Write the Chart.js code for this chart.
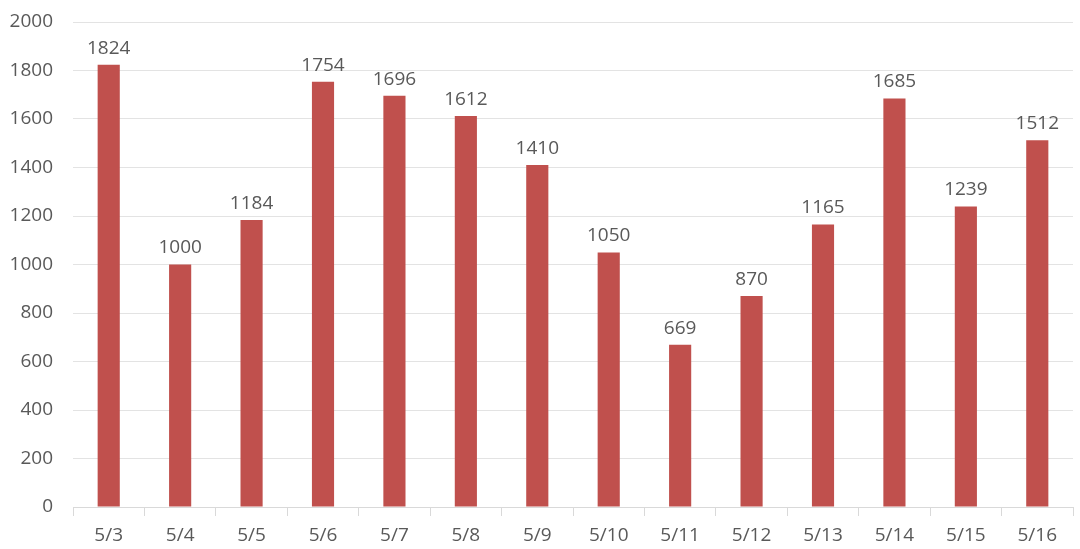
<!DOCTYPE html>
<html>
<head>
<meta charset="utf-8">
<script src="https://cdn.jsdelivr.net/npm/chart.js@4/dist/chart.umd.min.js"></script>
<style>
  html, body { margin: 0; padding: 0; background: #fff; }
  #wrap { width: 1080px; height: 549px; }
</style>
</head>
<body>
<div id="wrap"><canvas id="chart"></canvas></div>
<script>
const dates = ["5/3", "5/4", "5/5", "5/6", "5/7", "5/8", "5/9", "5/10", "5/11", "5/12", "5/13", "5/14", "5/15", "5/16"];
const counts = [1824, 1000, 1184, 1754, 1696, 1612, 1410, 1050, 669, 870, 1165, 1685, 1239, 1512];
const yTicks = [0, 200, 400, 600, 800, 1000, 1200, 1400, 1600, 1800, 2000];

const textColor = '#595959';
const fontFamily = '"Open Sans", "Noto Sans", sans-serif';

// draws the number above each bar
const barLabels = {
    id: 'barLabels',
    afterDatasetsDraw(chart) {
        const ctx = chart.ctx;
        const meta = chart.getDatasetMeta(0);
        ctx.save();
        ctx.fillStyle = textColor;
        ctx.font = '19px ' + fontFamily;
        ctx.textAlign = 'center';
        ctx.textBaseline = 'bottom';
        meta.data.forEach((bar, i) => {
            ctx.fillText(counts[i], bar.x, bar.y - 7);
        });
        ctx.restore();
    }
};

const ctx = document.getElementById('chart');
new Chart(ctx, {
    type: 'bar',
    data: {
        labels: dates,
        datasets: [{
            data: counts,
            backgroundColor: '#C0504D',
            categoryPercentage: 1.0,
            barPercentage: 0.31
        }]
    },
    options: {
        responsive: true,
        maintainAspectRatio: false,
        animation: false,
        layout: { padding: { top: 0, right: 7, left: 0, bottom: 0 } },
        plugins: {
            legend: { display: false },
            tooltip: { enabled: false }
        },
        scales: {
            x: {
                afterFit: s => { s.height = 42; },
                grid: {
                    offset: true,
                    drawOnChartArea: false,
                    color: '#d9d9d9',
                    tickLength: 9
                },
                border: { color: '#d9d9d9' },
                ticks: {
                    color: textColor,
                    font: { size: 19, family: fontFamily },
                    padding: 8,
                    maxRotation: 0
                }
            },
            y: {
                min: 0,
                max: 2000,
                afterFit: s => { s.width = 73; s.paddingTop = 22; },
                afterBuildTicks: s => { s.ticks = yTicks.map(v => ({ value: v })); },
                grid: { color: '#e3e3e3', drawTicks: false },
                border: { display: false },
                ticks: {
                    color: textColor,
                    font: { size: 19, family: fontFamily },
                    padding: 20,
                    callback: v => String(v)
                }
            }
        }
    },
    plugins: [barLabels]
});
</script>
</body>
</html>
